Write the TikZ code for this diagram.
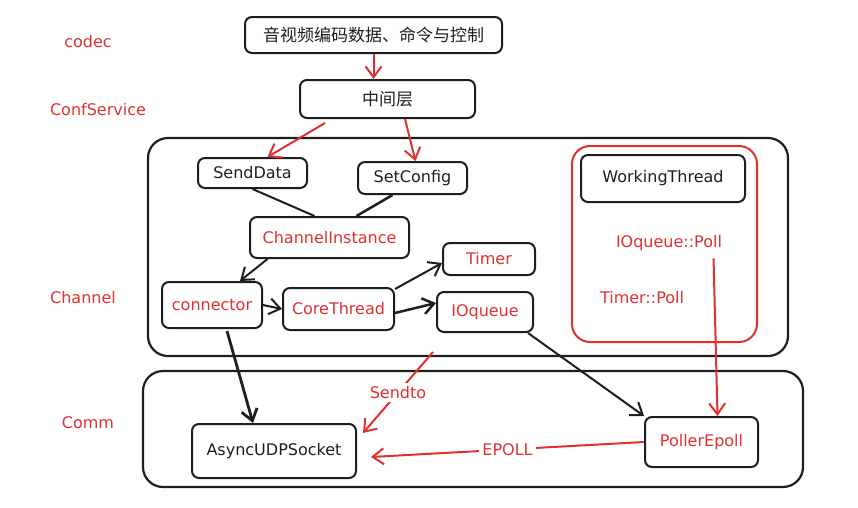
\documentclass[tikz,border=0pt]{standalone}
\usepackage{fontspec}
\setmainfont{DejaVu Sans}
\newfontfamily\cjk{Noto Sans CJK SC}
\usepackage{xcolor}
\usepackage{tikz}
\usetikzlibrary{arrows.meta}
\definecolor{rosso}{RGB}{224,49,49}
\definecolor{nero}{RGB}{30,30,30}

\begin{document}
\begin{tikzpicture}[x=1pt,y=-1pt,
                    font=\fontsize{16}{19}\selectfont,
                    >={Straight Barb[length=11pt,width=16pt]},
                    blocco/.style={draw=nero,line width=2pt,rounded corners=7pt,
                                   inner sep=0pt,text=nero},
                    testorosso/.style={text=rosso},
                    freccia/.style={->,draw=nero,line width=2pt},
                    frecciarossa/.style={->,draw=rosso,line width=2pt},
                    linea/.style={draw=nero,line width=2pt}]

    \useasboundingbox (0,0) rectangle (858,507);

        % Livelli
    \node[testorosso] (lCodec)   at (88,42)  {codec};
    \node[testorosso] (lConf)    at (98,110) {ConfService};
    \node[testorosso] (lChannel) at (83,298) {Channel};
    \node[testorosso] (lComm)    at (88,423) {Comm};

        % Contenitori
    \draw[nero,line width=2.2pt,rounded corners=20pt] (148,138) rectangle (788,356); % Channel
    \draw[nero,line width=2.2pt,rounded corners=20pt] (143,371) rectangle (803,487); % Comm
    \draw[rosso,line width=2pt,rounded corners=18pt] (572,146) rectangle (757,342); % thread

        % Blocchi in alto
    \node[blocco,minimum width=257,minimum height=36] (codec) at (373.5,35)
         {\cjk\fontsize{17}{20}\selectfont 音视频编码数据、命令与控制};
    \node[blocco,minimum width=175,minimum height=38] (mid) at (387.5,99)
         {\cjk\fontsize{17}{20}\selectfont 中间层};

        % Channel
    \node[blocco,minimum width=109,minimum height=30] (sendData)  at (252.5,173) {SendData};
    \node[blocco,minimum width=109,minimum height=32] (setConfig) at (412.5,178) {SetConfig};
    \node[blocco,text=rosso,minimum width=159,minimum height=41] (chInst) at (329.5,237.5) {ChannelInstance};
    \node[blocco,text=rosso,minimum width=100,minimum height=46] (conn)   at (212,305)     {connector};
    \node[blocco,text=rosso,minimum width=111,minimum height=42] (core)   at (338.5,309)   {CoreThread};
    \node[blocco,text=rosso,minimum width=92,minimum height=32]  (timer)  at (489,259)     {Timer};
    \node[blocco,text=rosso,minimum width=96,minimum height=40]  (ioq)    at (485,312)     {IOqueue};

        % Thread di lavoro
    \node[blocco,minimum width=164,minimum height=47] (working) at (663,178.5) {WorkingThread};
    \node[testorosso] (ioPoll)    at (669,243) {IOqueue::Poll};
    \node[testorosso] (timerPoll) at (642,298) {Timer::Poll};

        % Comm
    \node[blocco,minimum width=164,minimum height=54] (udp) at (274,451) {AsyncUDPSocket};
    \node[blocco,text=rosso,minimum width=113,minimum height=50] (poller) at (701.5,442) {PollerEpoll};

        % Frecce rosse
    \draw[frecciarossa] (codec.south) -- (codec.south |- mid.north);
    \draw[frecciarossa] ([xshift=26pt,yshift=-4pt]mid.south west) -- ([xshift=15pt]sendData.north);
    \draw[frecciarossa] ([xshift=106pt]mid.south west) -- ([xshift=3pt]setConfig.north);
    \draw[frecciarossa] ([xshift=-12pt,yshift=-4pt]ioPoll.south east) -- ([xshift=16pt]poller.north);

        % Collegamenti neri
    \draw[linea] (sendData.south) -- ([xshift=-15pt]chInst.north);
    \draw[linea,line width=2.5pt] ([xshift=-20pt]setConfig.south) -- ([xshift=27pt]chInst.north);
    \draw[freccia] ([xshift=-62pt]chInst.south) -- ([xshift=28pt]conn.north);
    \draw[freccia] (conn.east) -- (core.west);
    \draw[freccia] ([yshift=-2pt]core.north east) -- ([yshift=-4pt]timer.west);
    \draw[freccia,line width=2.5pt] ([yshift=-4pt]core.east) -- ([yshift=9pt]ioq.west);
    \draw[freccia,line width=2.8pt] ([xshift=15pt,yshift=-2pt]conn.south) -- ([xshift=-21pt]udp.north);
    \draw[freccia] ([xshift=-6pt]ioq.south east) -- (poller.north west);

        % Sendto ed EPOLL
    \coordinate (inizioSendto) at (433,352);
    \draw[frecciarossa] (inizioSendto) -- ([xshift=6pt,yshift=-10pt]udp.north east)
          node[midway,fill=white,text=rosso,inner sep=3pt] (sendto) {Sendto};
    \draw[frecciarossa] (poller.west) -- ([xshift=14pt,yshift=-6pt]udp.east)
          node[midway,fill=white,text=rosso,inner sep=3pt] (epoll) {EPOLL};

\end{tikzpicture}
\end{document}
